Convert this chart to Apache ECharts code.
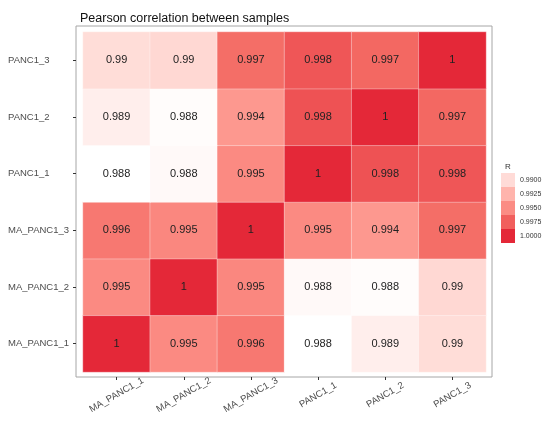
<!DOCTYPE html>
<html>
<head>
<meta charset="utf-8">
<script src="https://cdn.jsdelivr.net/npm/echarts@6/dist/echarts.min.js"></script>
<style>
  html, body { margin: 0; padding: 0; background: #fff; }
  #chart { width: 543px; height: 424px; }
</style>
</head>
<body>
<div id="chart"></div>
<script>
// samples (x left to right, y bottom to top)
const xCats = ['MA_PANC1_1', 'MA_PANC1_2', 'MA_PANC1_3', 'PANC1_1', 'PANC1_2', 'PANC1_3']
const yCats = ['MA_PANC1_1', 'MA_PANC1_2', 'MA_PANC1_3', 'PANC1_1', 'PANC1_2', 'PANC1_3']

// correlation rows, one per y sample, columns follow xCats
const rowMA1 = [1, 0.9951, 0.9962, 0.9877, 0.9888, 0.9899]
const rowMA2 = [0.9951, 1, 0.9953, 0.9881, 0.9879, 0.9902]
const rowMA3 = [0.9962, 0.9953, 1, 0.9951, 0.9943, 0.9968]
const rowP1 = [0.9877, 0.9881, 0.9951, 1, 0.9981, 0.9979]
const rowP2 = [0.9888, 0.9879, 0.9943, 0.9981, 1, 0.9971]
const rowP3 = [0.9899, 0.9902, 0.9968, 0.9979, 0.9971, 1]
const rows = [rowMA1, rowMA2, rowMA3, rowP1, rowP2, rowP3]

// legend breaks
const legendBreaks = [0.99, 0.9925, 0.995, 0.9975, 1.0]

// colour scale (white -> red, lab-like stops)
const scaleMin = 0.9877
const scaleMax = 1
const scaleColors = ['#FFFFFF', '#FFCFC9', '#FF9F96', '#F46C65', '#E42838']

const hexToRgb = (h) => [1, 3, 5].map((i) => parseInt(h.slice(i, i + 2), 16))
const colorAt = (v) => {
	let t = (v - scaleMin) / (scaleMax - scaleMin)
	t = Math.max(0, Math.min(1, t))
	const pos = t * (scaleColors.length - 1)
	const i = Math.min(Math.floor(pos), scaleColors.length - 2)
	const f = pos - i
	const a = hexToRgb(scaleColors[i])
	const b = hexToRgb(scaleColors[i + 1])
	const c = a.map((x, k) => Math.round(x + (b[k] - x) * f))
	return 'rgb(' + c.join(',') + ')'
}

const data = []
rows.forEach((row, yi) => {
	row.forEach((v, xi) => {
		data.push([xi, yi, v])
	})
})

const fmt = (v) => String(Number(v.toFixed(3)))
const font = '"Liberation Sans", Arial, Helvetica, sans-serif'

const chart = echarts.init(document.getElementById('chart'))
chart.setOption({
	animation: false,
	backgroundColor: '#fff',
	title: [
		{
			text: 'Pearson correlation between samples',
			left: 75,
			top: 7,
			textStyle: { fontSize: 12.5, fontWeight: 'normal', color: '#111', fontFamily: font }
		},
		{
			text: 'R',
			left: 500,
			top: 158,
			textStyle: { fontSize: 8, fontWeight: 'normal', color: '#333', fontFamily: font }
		}
	],
	grid: { left: 83, right: 57, top: 32, bottom: 52 },
	xAxis: {
		type: 'category',
		data: xCats,
		offset: 5,
		axisLine: { show: false },
		axisTick: { show: true, length: 3, alignWithLabel: true, lineStyle: { color: '#333' } },
		splitLine: { show: false },
		axisLabel: {
			rotate: 30,
			align: 'center',
			verticalAlign: 'middle',
			margin: 18,
			fontSize: 9.5,
			color: '#4D4D4D',
			fontFamily: font
		}
	},
	yAxis: {
		type: 'category',
		data: yCats,
		offset: 7,
		axisLine: { show: false },
		axisTick: { show: true, length: 3, alignWithLabel: true, lineStyle: { color: '#333' } },
		splitLine: { show: false },
		axisLabel: {
			align: 'left',
			margin: 68,
			fontSize: 9.5,
			color: '#4D4D4D',
			fontFamily: font
		}
	},
	visualMap: [
		{
			type: 'continuous',
			show: false,
			seriesIndex: 0,
			dimension: 2,
			min: scaleMin,
			max: scaleMax,
			inRange: { color: scaleColors }
		},
		{
			type: 'piecewise',
			seriesIndex: 1,
			orient: 'vertical',
			inverse: true,
			align: 'left',
			left: 501,
			top: 173,
			padding: 0,
			itemWidth: 14,
			itemHeight: 14,
			itemGap: 0,
			itemSymbol: 'rect',
			textGap: 5,
			selectedMode: false,
			textStyle: { fontSize: 7, color: '#333', fontFamily: font },
			pieces: legendBreaks.map((v) => ({ value: v, label: v.toFixed(4), color: colorAt(v) }))
		}
	],
	graphic: [
		{
			type: 'rect',
			shape: { x: 76, y: 26, width: 416, height: 351 },
			style: { fill: 'none', stroke: '#A6A6A6', lineWidth: 1 },
			silent: true
		}
	],
	series: [
		{
			type: 'heatmap',
			data: data,
			itemStyle: { borderColor: 'rgba(255,255,255,0.35)', borderWidth: 1 },
			label: {
				show: true,
				formatter: (p) => fmt(p.value[2]),
				fontSize: 11,
				color: '#222',
				fontFamily: font
			},
			emphasis: { disabled: true }
		},
		{
			type: 'heatmap',
			data: []
		}
	]
})
</script>
</body>
</html>
